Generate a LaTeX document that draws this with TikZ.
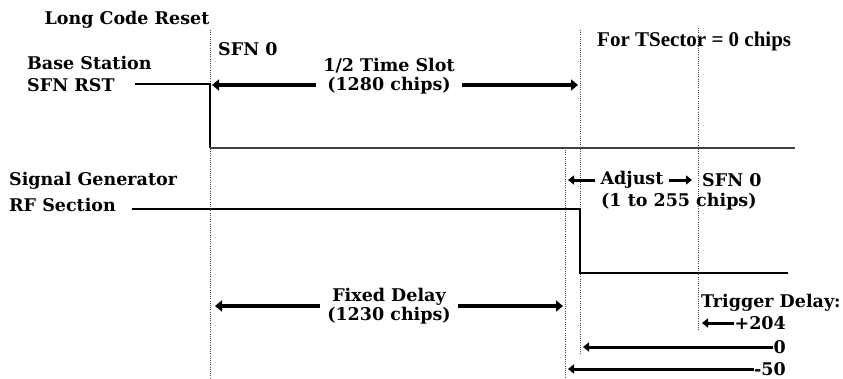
\documentclass[tikz,border=0pt]{standalone}
\usepackage{fontspec}
\setmainfont{DejaVu Serif}
\newfontfamily\notefont{Liberation Serif}
\usetikzlibrary{arrows.meta}
\tikzset{
  lbl/.style={font=\bfseries\fontsize{17.5}{19}\selectfont, inner sep=0pt},
  guide/.style={line width=1pt, dash pattern=on 1pt off 1.2pt, black!70},
  sig/.style={line width=1.2pt},
  bigarrow/.style={line width=4pt, -{Triangle[length=7pt,width=11pt]}},
  smallarrow/.style={line width=3pt, -{Triangle[length=6pt,width=9pt]}}
}
\begin{document}
\begin{tikzpicture}[x=1pt,y=-1pt]
  \useasboundingbox (0,0) rectangle (843,378);
  % guide lines
  \coordinate (g1) at (210,30); \coordinate (g2) at (210,378);
  \coordinate (g3) at (580,30); \coordinate (g4) at (580,355);
  \coordinate (g5) at (565,150); \coordinate (g6) at (565,378);
  \coordinate (g7) at (698,28); \coordinate (g8) at (698,330);
  \draw[guide] (g1) -- (g2); \draw[guide] (g3) -- (g4);
  \draw[guide] (g5) -- (g6); \draw[guide] (g7) -- (g8);
  % labels
  \node[lbl] (LCR) at (127,20) {Long Code Reset};
  \node[lbl, anchor=west] (BS) at (27,63) {Base Station};
  \node[lbl, anchor=west] (SR) at (27,85) {SFN RST};
  \node[lbl, anchor=west] (S0) at (218,49) {SFN 0};
  \node[lbl, align=center, inner xsep=7pt] (TS) at (389,76) {1/2 Time Slot\\(1280 chips)};
  \node[font=\notefont\bfseries\fontsize{21}{24}\selectfont, inner sep=0pt, anchor=west] (FT) at (597,41) {For TSector = 0 chips};
  \node[lbl, anchor=west] (SG) at (9,181) {Signal Generator};
  \node[lbl, anchor=west] (RF) at (9,205) {RF Section};
  \node[lbl, inner xsep=5pt] (AD) at (632,180) {Adjust};
  \node[lbl, anchor=west] (S0b) at (702,180) {SFN 0};
  \node[lbl, anchor=west] (RG) at (601,202) {(1 to 255 chips)};
  \node[lbl, align=center, inner xsep=7pt] (FD) at (389,306) {Fixed Delay\\(1230 chips)};
  \node[lbl, anchor=west] (TD) at (701,303) {Trigger Delay:};
  \node[lbl, anchor=east] (P204) at (786,323) {+204};
  \node[lbl, anchor=east] (Z0) at (786,347) {0};
  \node[lbl, anchor=east] (M50) at (786,369) {-50};
  % base station signal
  \coordinate (b0) at (135,84); \coordinate (b1) at (210,84);
  \coordinate (b2) at (210,148); \coordinate (b3) at (795,148);
  \draw[sig] (b0) -- (b1) -- (b2); \draw[line width=2pt, black!75] (b2) -- (b3);
  % signal generator
  \coordinate (r0) at (132,209); \coordinate (r1) at (580,209);
  \coordinate (r2) at (580,273); \coordinate (r3) at (788,273);
  \draw[sig] (r0) -- (r1) -- (r2) -- (r3);
  % spans
  \coordinate (t1) at (212,85); \coordinate (t2) at (578,85);
  \draw[bigarrow] (TS.west |- t1) -- (t1); \draw[bigarrow] (TS.east |- t2) -- (t2);
  \coordinate (f1) at (215,306); \coordinate (f2) at (563,306);
  \draw[bigarrow] (FD.west) -- (f1); \draw[bigarrow] (FD.east) -- (f2);
  \coordinate (a1) at (568,180); \coordinate (a2) at (692,180);
  \draw[smallarrow] (AD.west) -- (a1); \draw[smallarrow] (AD.east) -- (a2);
  % trigger delays
  \coordinate (d1) at (702,323); \coordinate (d2) at (583,347); \coordinate (d3) at (568,369);
  \draw[smallarrow] (P204.west) -- (d1); \draw[smallarrow] (Z0.west) -- (d2);
  \draw[smallarrow] (M50.west) -- (d3);
\end{tikzpicture}
\end{document}
